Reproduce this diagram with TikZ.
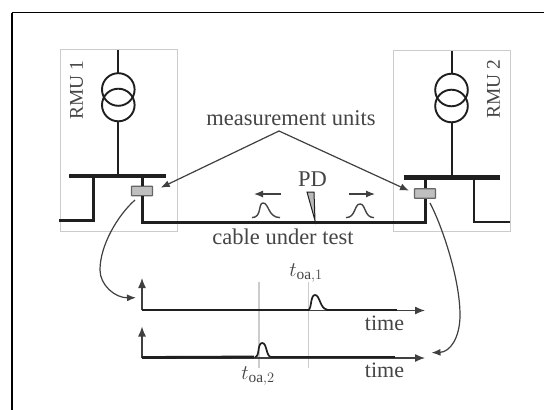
\documentclass[tikz,border=0pt]{standalone}
\usepackage{fontspec}
\setmainfont{Liberation Serif}
\usetikzlibrary{arrows.meta}
\definecolor{ink}{gray}{0.12}
\definecolor{txt}{gray}{0.27}
\definecolor{lead}{gray}{0.25}
\definecolor{boxline}{gray}{0.8}
\tikzset{
  x=1pt,y=-1pt,
  lbl/.style={text=txt,font=\fontsize{22.5}{24}\selectfont,inner sep=0pt},
  rmulbl/.style={lbl,font=\fontsize{19.5}{21}\selectfont,rotate=90},
  sublbl/.style={lbl,font=\fontsize{22}{24}\selectfont},
  rmu/.style={draw=boxline,line width=0.9pt,inner sep=0pt},
  thick line/.style={draw=ink,line width=3pt},
  bus/.style={draw=ink,line width=4.6pt},
  wire/.style={draw=ink,line width=2.2pt},
  coil/.style={draw=ink,line width=1.9pt},
  unit/.style={draw=gray!80!black,fill=gray!50,line width=1.2pt,rounded corners=0.5pt,minimum width=21pt,minimum height=9.5pt,inner sep=0pt},
  leadline/.style={draw=lead,line width=1.2pt,-{Latex[length=9pt,width=7pt]}},
  axis/.style={draw=lead,line width=1.3pt,-{Latex[length=10pt,width=8pt]}},
  gridl/.style={draw=boxline,line width=1.3pt},
  trace/.style={draw=ink,line width=2.8pt},
  pulsel/.style={draw=ink,line width=1.7pt},
  smallpulse/.style={draw=txt,line width=1.4pt},
}
\begin{document}
\begin{tikzpicture}
\useasboundingbox (0,0) rectangle (544,410);
\fill[white] (0,0) rectangle (544,410);
\draw[black,line width=1.4pt] (12,12.5) -- (544,12.5);
\draw[black,line width=1.4pt] (12,12.5) -- (12,410);
% RMU boxes
\node[rmu,minimum width=117pt,minimum height=182pt] (r1) at (118.5,140) {};
\node[rmu,minimum width=117pt,minimum height=181pt] (r2) at (451.5,140.5) {};
\node[rmulbl] (r1t) at (76.5,90) {RMU 1};
\node[rmulbl] (r2t) at (493.5,89) {RMU 2};
% transformer 1
\draw[wire] (118,50) -- (118,73);
\draw[wire] (118,121) -- (118,174);
\draw[coil] (118.3,89.5) circle (16.3);
\draw[coil] (118.3,105) circle (16.3);
% transformer 2
\draw[wire] (451.7,51) -- (451.7,74);
\draw[wire] (451.7,122) -- (451.7,175);
\draw[coil] (451.5,90) circle (16.3);
\draw[coil] (451.5,106) circle (16.3);
% busbars
\draw[bus] (69,176) -- (166,176);
\draw[bus] (403.5,177.5) -- (500,177.5);
% feeders
\draw[thick line] (59,220.7) -- (93,220.7) -- (93,176);
\node[unit] (u1) at (142,191) {};
\draw[thick line] (142,177) -- (u1.north);
\draw[thick line] (u1.south) -- (142,222.3) -- (425,222.3) -- (425,198);
\node[unit] (u2) at (425,193.5) {};
\draw[thick line] (425,177) -- (u2.north);
\draw[wire] (474,177) -- (474,221.7) -- (510,221.7);
% text
\node[lbl] (mu) at (291,118) {measurement units};
\node[lbl] (pd) at (312.5,179) {PD};
\node[lbl] (cut) at (283,237) {cable under test};
% leads
\coordinate (apex) at (279,131);
\coordinate (t1) at (160.7,187.7);
\coordinate (t2) at (409,190.7);
\draw[leadline] (apex) -- (t1);
\draw[leadline] (apex) -- (t2);
% pulses
\draw[smallpulse] (252,217.6) .. controls (262,217.6) and (258,203) .. (263,203) .. controls (269,203) and (268,217.6) .. (280,217.6);
\draw[smallpulse] (346,217.6) .. controls (356,217.6) and (354,204) .. (360,204) .. controls (366,204) and (364,217.6) .. (374,217.6);
\draw[leadline] (281,194) -- (254,194);
\draw[leadline] (349,194) -- (375,194);
% PD needle
\fill[gray!55,draw=ink,line width=1pt] (307,192) -- (314,192) -- (315,220.5) -- cycle;
% time plots
\coordinate (g1top) at (308.3,282); \coordinate (g1bot) at (308.3,368);
\coordinate (g2top) at (259,282); \coordinate (g2bot) at (259,368);
\draw[gridl] (g1top) -- (g1bot);
\draw[gridl] (g2top) -- (g2bot);
\coordinate (o1) at (142,310); \coordinate (o2) at (142,357.5);
\draw[axis] (o1) -- (142,278);
\draw[axis] (o1) ++(0,0.5) -- (425,310.5);
\draw[axis] (o2) -- (142,326.5);
\draw[axis] (o2) ++(0,0.5) -- (425,358);
\draw[trace] (o1) -- (309,310);
\draw[pulsel] (308,310) .. controls (312,310) and (310,295) .. (315,295) .. controls (320,295) and (320,309) .. (327,309.5);
\draw[trace] (326,310) -- (396.5,310);
\draw[trace] (o2) -- (254,357);
\draw[pulsel] (255,357) .. controls (260,357) and (257,343) .. (262.3,343) .. controls (267,343) and (266,356.5) .. (271,357) -- (281,357);
\draw[trace] (281,357) -- (395,357);
\node[sublbl] (t1l) at (306,273) {$t_{\mathrm{oa},1}$};
\node[sublbl] (t2l) at (258,376) {$t_{\mathrm{oa},2}$};
\node[lbl,font=\fontsize{22}{24}\selectfont] (ti1) at (384.5,323) {time};
\node[lbl,font=\fontsize{22}{24}\selectfont] (ti2) at (384.5,370) {time};
% curved leads
\draw[leadline] (135,200) .. controls (118,215) and (100,245) .. (100,270) .. controls (100,285) and (115,298) .. (136,297.7);
\draw[leadline] (430,203) .. controls (443,228) and (460,280) .. (460,315) .. controls (460,338) and (450,352) .. (431.5,352.7);
\end{tikzpicture}
\end{document}
